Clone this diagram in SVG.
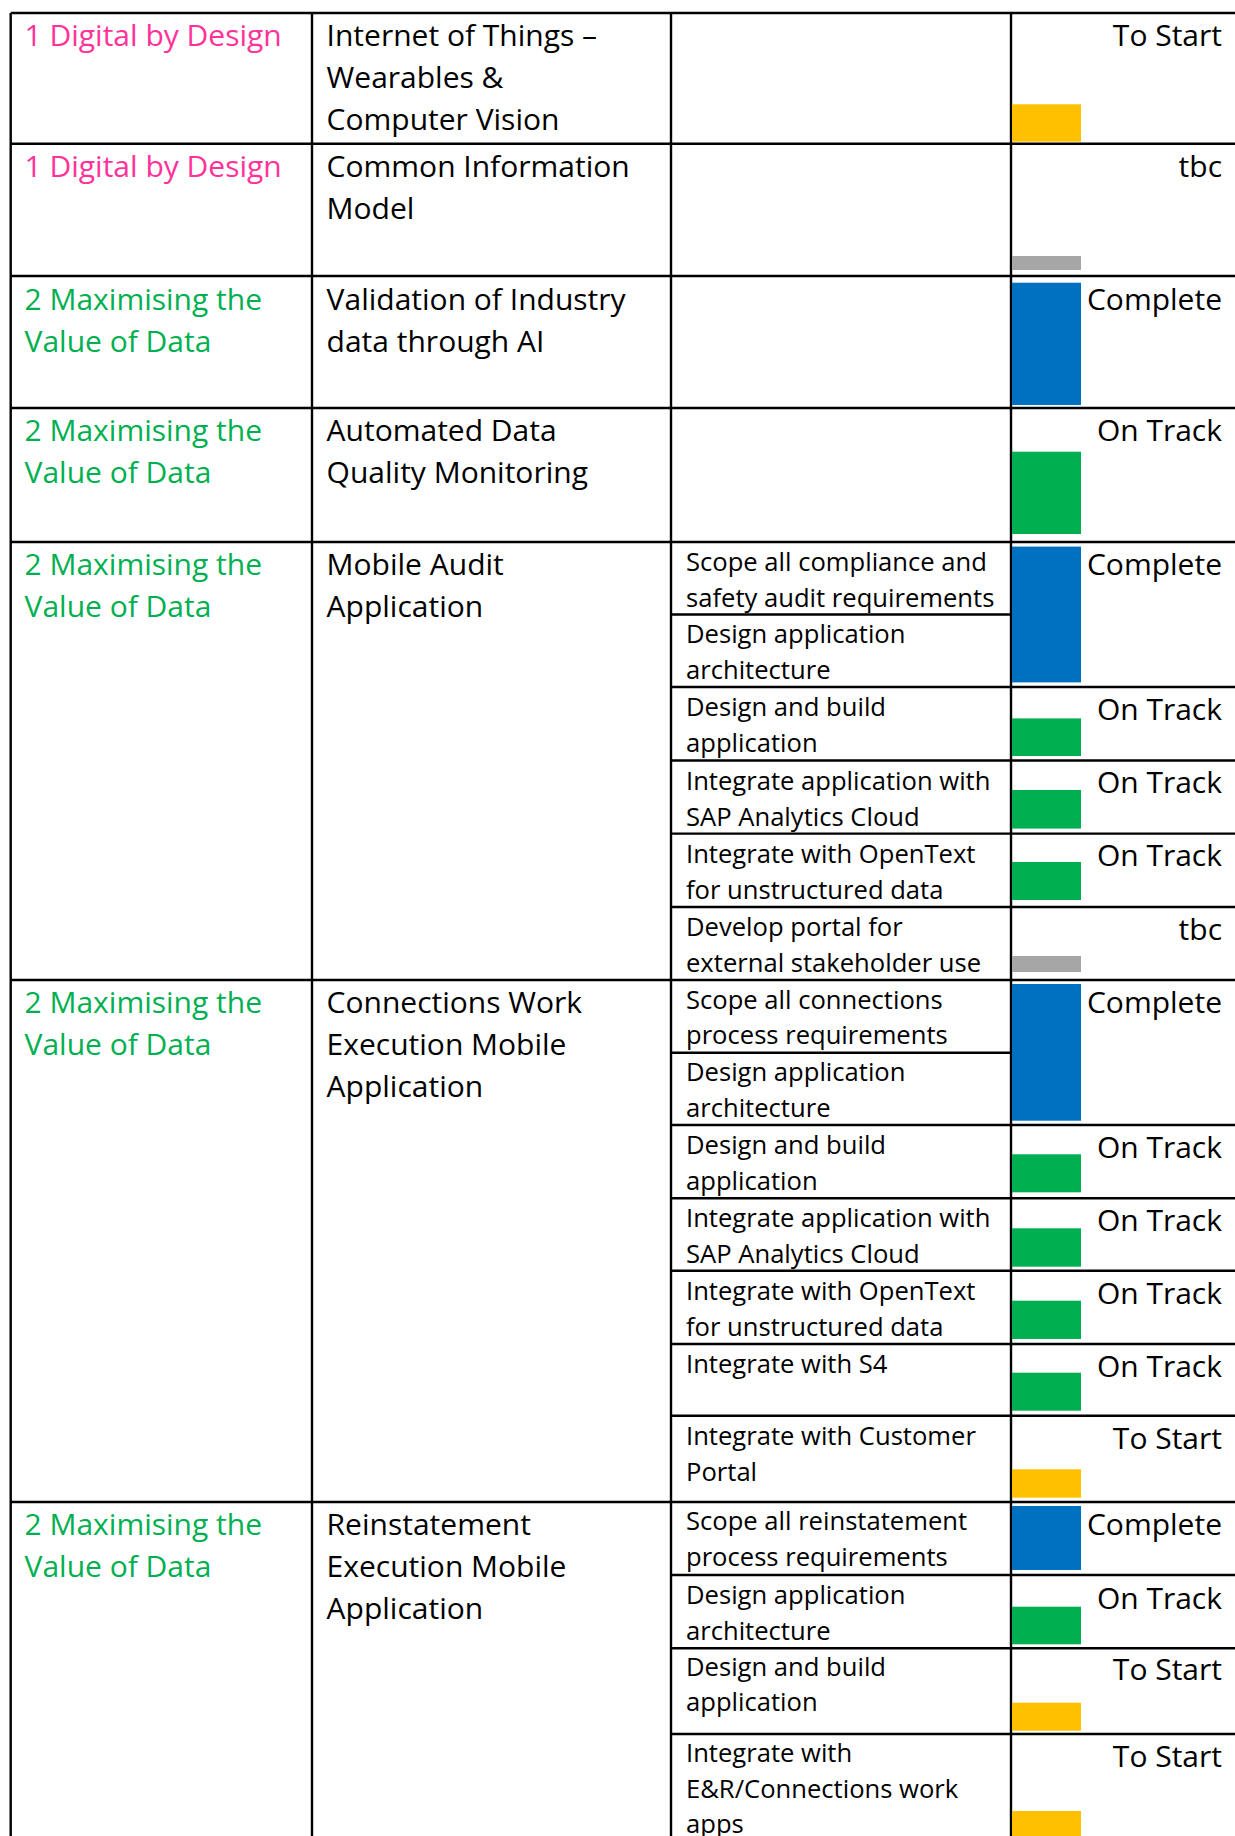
<svg xmlns="http://www.w3.org/2000/svg" width="1235" height="1836" viewBox="0 0 1235 1836">
<style>
.ln{stroke:#000;stroke-width:2.4;fill:none}
.t{font-family:"Open Sans","Noto Sans",sans-serif;font-size:30px;fill:#000}
.s{font-family:"Open Sans","Noto Sans",sans-serif;font-size:25.6px;fill:#000}
.pk{fill:#FF3399}
.gr{fill:#00B050}
.st{text-anchor:end}
.b{fill:#0070C0}
.g{fill:#00B050}
.y{fill:#FFC000}
.x{fill:#A6A6A6}
</style>
<rect width="1235" height="1836" fill="#fff"/>
<g id="grid">
<path class="ln" d="M10.7 13V1836M312 13V1836M671 13V1836M1011 13V1836"/>
<path class="ln" d="M10.7 13H1235M10.7 143.7H1235M10.7 276H1235M10.7 408H1235M10.7 542H1235M10.7 980H1235M10.7 1502H1235"/>
<path class="ln" d="M671 614.5H1011M671 687H1235M671 760.5H1235M671 833.6H1235M671 907H1235"/>
<path class="ln" d="M671 1052.7H1011M671 1125H1235M671 1198.3H1235M671 1270.7H1235M671 1344H1235M671 1415.7H1235"/>
<path class="ln" d="M671 1575H1235M671 1648.3H1235M671 1734H1235"/>
</g>
<g id="row1">
<text class="t pk" x="24.5" y="46">1 Digital by Design</text>
<text class="t" x="326.6" y="46">Internet of Things –</text>
<text class="t" x="326.6" y="88">Wearables &amp;</text>
<text class="t" x="326.6" y="130">Computer Vision</text>
<rect class="y" x="1012" y="104.3" width="69" height="37.4"/>
<text class="t st" x="1222" y="46">To Start</text>
</g>
<g id="row2">
<text class="t pk" x="24.5" y="177">1 Digital by Design</text>
<text class="t" x="326.6" y="177">Common Information</text>
<text class="t" x="326.6" y="219">Model</text>
<rect class="x" x="1012" y="256" width="69" height="14"/>
<text class="t st" x="1222" y="177">tbc</text>
</g>
<g id="row3">
<text class="t gr" x="24.5" y="309.5">2 Maximising the</text>
<text class="t gr" x="24.5" y="351.5">Value of Data</text>
<text class="t" x="326.6" y="309.5">Validation of Industry</text>
<text class="t" x="326.6" y="351.5">data through AI</text>
<rect class="b" x="1012" y="282.7" width="69" height="122.3"/>
<text class="t st" x="1222" y="309.5">Complete</text>
</g>
<g id="row4">
<text class="t gr" x="24.5" y="441">2 Maximising the</text>
<text class="t gr" x="24.5" y="483">Value of Data</text>
<text class="t" x="326.6" y="441">Automated Data</text>
<text class="t" x="326.6" y="483">Quality Monitoring</text>
<rect class="g" x="1012" y="451.7" width="69" height="82.3"/>
<text class="t st" x="1222" y="441">On Track</text>
</g>
<g id="row5">
<text class="t gr" x="24.5" y="575">2 Maximising the</text>
<text class="t gr" x="24.5" y="617">Value of Data</text>
<text class="t" x="326.6" y="575">Mobile Audit</text>
<text class="t" x="326.6" y="617">Application</text>
<text class="s" x="686" y="570.5">Scope all compliance and</text>
<text class="s" x="686" y="606.7">safety audit requirements</text>
<text class="s" x="686" y="643">Design application</text>
<text class="s" x="686" y="679">architecture</text>
<text class="s" x="686" y="716">Design and build</text>
<text class="s" x="686" y="752">application</text>
<text class="s" x="686" y="789.5">Integrate application with</text>
<text class="s" x="686" y="825.5">SAP Analytics Cloud</text>
<text class="s" x="686" y="862.5">Integrate with OpenText</text>
<text class="s" x="686" y="898.5">for unstructured data</text>
<text class="s" x="686" y="936">Develop portal for</text>
<text class="s" x="686" y="972">external stakeholder use</text>
<rect class="b" x="1012" y="546.6" width="69" height="135.8"/>
<text class="t st" x="1222" y="575">Complete</text>
<rect class="g" x="1012" y="718.4" width="69" height="37.6"/>
<text class="t st" x="1222" y="720">On Track</text>
<rect class="g" x="1012" y="790" width="69" height="38.6"/>
<text class="t st" x="1222" y="792.5">On Track</text>
<rect class="g" x="1012" y="862" width="69" height="38"/>
<text class="t st" x="1222" y="865.5">On Track</text>
<rect class="x" x="1012" y="956" width="69" height="16"/>
<text class="t st" x="1222" y="940">tbc</text>
</g>
<g id="row6">
<text class="t gr" x="24.5" y="1013">2 Maximising the</text>
<text class="t gr" x="24.5" y="1055">Value of Data</text>
<text class="t" x="326.6" y="1013">Connections Work</text>
<text class="t" x="326.6" y="1055">Execution Mobile</text>
<text class="t" x="326.6" y="1097">Application</text>
<text class="s" x="686" y="1008.5">Scope all connections</text>
<text class="s" x="686" y="1044">process requirements</text>
<text class="s" x="686" y="1080.5">Design application</text>
<text class="s" x="686" y="1116.5">architecture</text>
<text class="s" x="686" y="1153.5">Design and build</text>
<text class="s" x="686" y="1189.5">application</text>
<text class="s" x="686" y="1227">Integrate application with</text>
<text class="s" x="686" y="1263">SAP Analytics Cloud</text>
<text class="s" x="686" y="1300">Integrate with OpenText</text>
<text class="s" x="686" y="1336">for unstructured data</text>
<text class="s" x="686" y="1373">Integrate with S4</text>
<text class="s" x="686" y="1444.5">Integrate with Customer</text>
<text class="s" x="686" y="1480.5">Portal</text>
<rect class="b" x="1012" y="984" width="69" height="136.7"/>
<text class="t st" x="1222" y="1013">Complete</text>
<rect class="g" x="1012" y="1154.3" width="69" height="38"/>
<text class="t st" x="1222" y="1158">On Track</text>
<rect class="g" x="1012" y="1228.3" width="69" height="38.4"/>
<text class="t st" x="1222" y="1231">On Track</text>
<rect class="g" x="1012" y="1300.7" width="69" height="38.3"/>
<text class="t st" x="1222" y="1304">On Track</text>
<rect class="g" x="1012" y="1372.7" width="69" height="38"/>
<text class="t st" x="1222" y="1377">On Track</text>
<rect class="y" x="1012" y="1469.3" width="69" height="28.4"/>
<text class="t st" x="1222" y="1448.5">To Start</text>
</g>
<g id="row7">
<text class="t gr" x="24.5" y="1535">2 Maximising the</text>
<text class="t gr" x="24.5" y="1577">Value of Data</text>
<text class="t" x="326.6" y="1535">Reinstatement</text>
<text class="t" x="326.6" y="1577">Execution Mobile</text>
<text class="t" x="326.6" y="1619">Application</text>
<text class="s" x="686" y="1530">Scope all reinstatement</text>
<text class="s" x="686" y="1565.5">process requirements</text>
<text class="s" x="686" y="1603.5">Design application</text>
<text class="s" x="686" y="1639.5">architecture</text>
<text class="s" x="686" y="1675.5">Design and build</text>
<text class="s" x="686" y="1711">application</text>
<text class="s" x="686" y="1762">Integrate with</text>
<text class="s" x="686" y="1797.5">E&amp;R/Connections work</text>
<text class="s" x="686" y="1833">apps</text>
<rect class="b" x="1012" y="1506" width="69" height="64"/>
<text class="t st" x="1222" y="1535">Complete</text>
<rect class="g" x="1012" y="1606.7" width="69" height="37.6"/>
<text class="t st" x="1222" y="1608.5">On Track</text>
<rect class="y" x="1012" y="1702.7" width="69" height="28"/>
<text class="t st" x="1222" y="1680">To Start</text>
<rect class="y" x="1012" y="1811" width="69" height="25"/>
<text class="t st" x="1222" y="1767">To Start</text>
</g>
</svg>
